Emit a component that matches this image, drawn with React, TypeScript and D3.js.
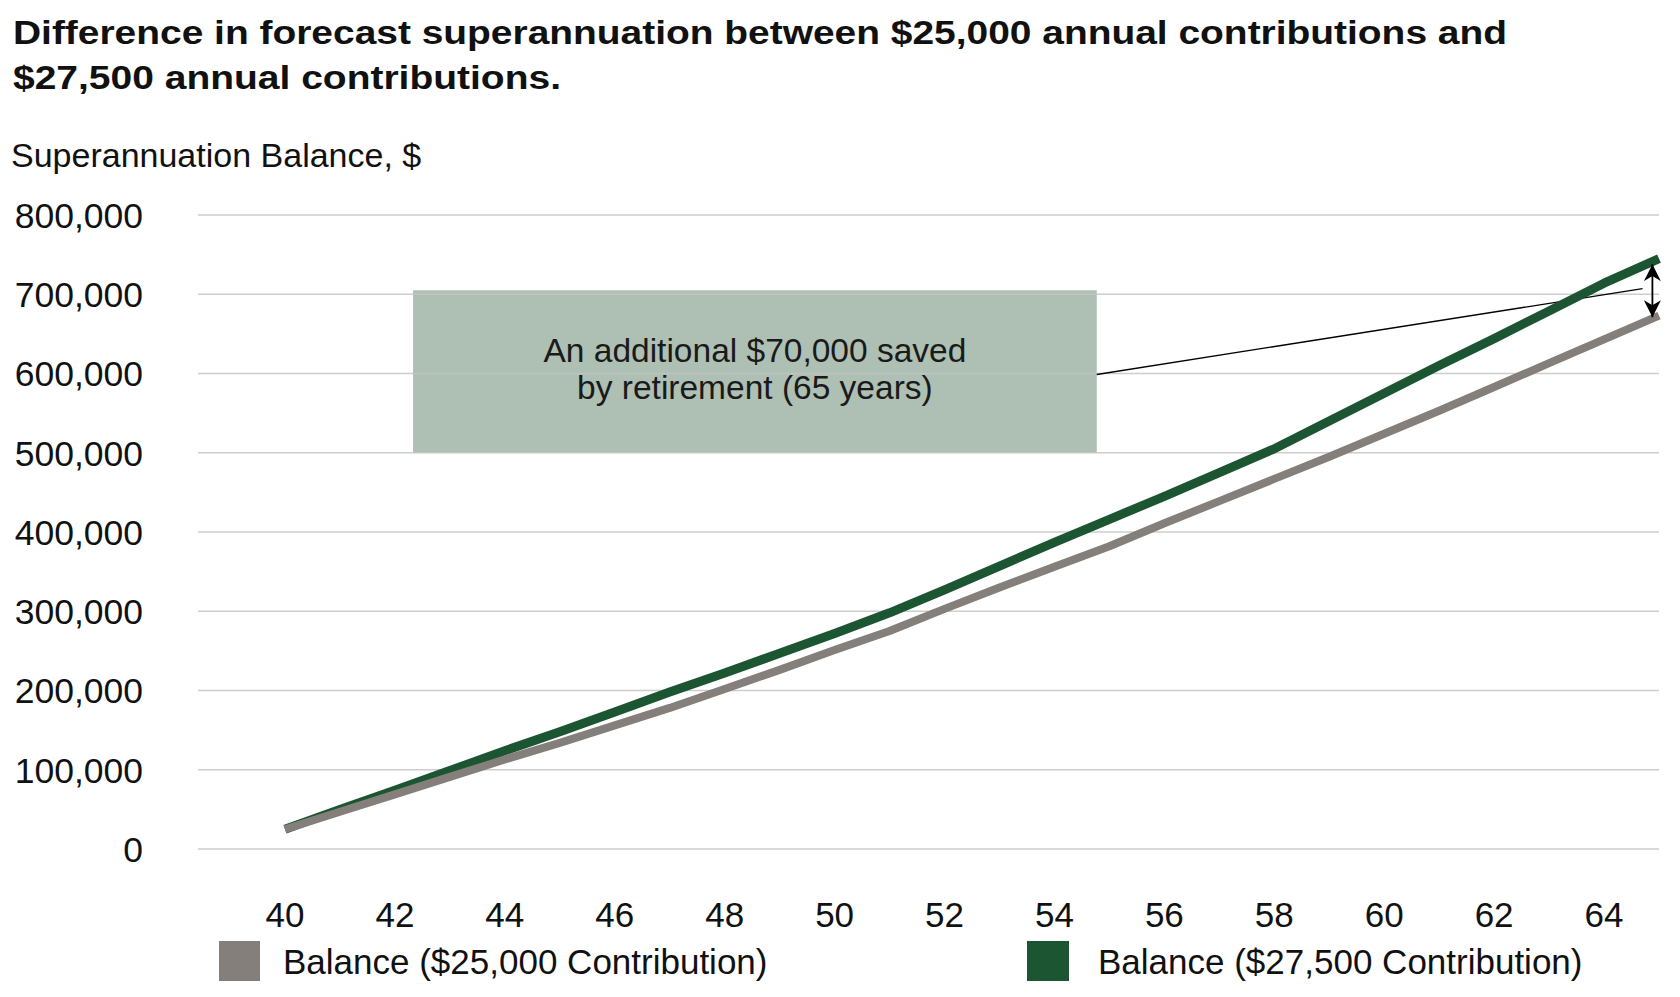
import React from "react";
import * as d3 from "d3";

const TITLE_LINES = [
  "Difference in forecast superannuation between $25,000 annual contributions and",
  "$27,500 annual contributions.",
];
const Y_AXIS_TITLE = "Superannuation Balance, $";
const AGES = [40, 41, 42, 43, 44, 45, 46, 47, 48, 49, 50, 51, 52, 53, 54, 55, 56, 57, 58, 59, 60, 61, 62, 63, 64, 65];
const BALANCE_25000 = [
  25000, 47000, 69000, 91000, 113000, 134000, 156000, 178000, 202000, 226000, 251000, 275000, 303000,
  330000, 356000, 382000, 411000, 439000, 467000, 495000, 524000, 553000, 583000, 613000, 643000, 673000,
];
const BALANCE_27500 = [
  25000, 50000, 74000, 99000, 124000, 148000, 173000, 198000, 222000, 247000, 272000, 298000, 327000,
  357000, 387000, 416000, 445000, 475000, 505000, 540000, 575000, 610000, 644000, 679000, 714000, 745000,
];
const X_TICKS = [40, 42, 44, 46, 48, 50, 52, 54, 56, 58, 60, 62, 64];
const Y_TICKS = [0, 100000, 200000, 300000, 400000, 500000, 600000, 700000, 800000];
const SERIES_NAMES = ["Balance ($25,000 Contribution)", "Balance ($27,500 Contribution)"];
const ANNOTATION_LINES = ["An additional $70,000 saved", "by retirement (65 years)"];

const W = 1680;
const H = 997;
const FONT = "'Liberation Sans', Arial, sans-serif";
const GREY = "#857f7b";
const GREEN = "#1c5532";

export default function App() {
  const x = d3.scaleLinear().domain([40, 65]).range([285, 1659]);
  const y = d3.scaleLinear().domain([0, 800000]).range([849, 215]);
  const gridX0 = 198;
  const gridX1 = 1659;

  const line = d3
    .line<number>()
    .x((_, i) => x(AGES[i]))
    .y((d) => y(d))
    .curve(d3.curveLinear);

  const fmt = d3.format(",");

  // annotation box in data units
  const boxX0 = x(42.33);
  const boxX1 = x(54.77);
  const boxY0 = y(705000);
  const boxY1 = y(500000);
  const boxCx = (boxX0 + boxX1) / 2;

  const arrowX = x(64.88);
  const arrowTop = y(738000);
  const arrowBot = y(671000);

  return (
    <svg
      width={W}
      height={H}
      viewBox={`0 0 ${W} ${H}`}
      style={{ position: "absolute", left: 0, top: 0, display: "block", background: "#fff" }}
      fontFamily={FONT}
    >
      <defs>
        <marker id="ah" viewBox="0 0 10 10" refX="10" refY="5" markerWidth="17" markerHeight="17" markerUnits="userSpaceOnUse" orient="auto-start-reverse">
          <path d="M0,0 L10,5 L0,10 L3,5 Z" fill="#000" />
        </marker>
      </defs>

      {/* Title */}
      <text x={13} y={44} fontSize={34} fontWeight={700} fill="#111" textLength={1494} lengthAdjust="spacingAndGlyphs">
        {TITLE_LINES[0]}
      </text>
      <text x={13} y={89} fontSize={34} fontWeight={700} fill="#111" textLength={548} lengthAdjust="spacingAndGlyphs">
        {TITLE_LINES[1]}
      </text>

      {/* Y axis title */}
      <text x={11} y={167} fontSize={34} fill="#111">
        {Y_AXIS_TITLE}
      </text>

      {/* Annotation box */}
      <rect x={boxX0} y={boxY0} width={boxX1 - boxX0} height={boxY1 - boxY0} fill="#aebfb3" />

      {/* Gridlines */}
      {Y_TICKS.map((t) => (
        <line key={t} x1={gridX0} x2={gridX1} y1={y(t)} y2={y(t)} stroke="#c4c4c4" strokeWidth={1.3} strokeOpacity={0.85} />
      ))}

      {/* Y tick labels */}
      {Y_TICKS.map((t) => (
        <text key={t} x={143} y={y(t)} dy="0.36em" textAnchor="end" fontSize={35.5} fill="#111">
          {fmt(t)}
        </text>
      ))}

      {/* X tick labels */}
      {X_TICKS.map((t) => (
        <text key={t} x={x(t)} y={927} textAnchor="middle" fontSize={35} fill="#111">
          {t}
        </text>
      ))}

      {/* Annotation text */}
      {ANNOTATION_LINES.map((s, i) => (
        <text key={i} x={boxCx} y={362 + i * 37} textAnchor="middle" fontSize={33.5} fill="#1a1a1a">
          {s}
        </text>
      ))}

      {/* Leader line */}
      <line x1={boxX1} y1={y(600000) + 1} x2={x(64.7)} y2={y(707000)} stroke="#000" strokeWidth={1.3} />

      {/* Series lines */}
      <path d={line(BALANCE_27500) || ""} fill="none" stroke={GREEN} strokeWidth={9} strokeLinejoin="round" />
      <path d={line(BALANCE_25000) || ""} fill="none" stroke={GREY} strokeWidth={8} strokeLinejoin="round" />

      {/* Double arrow */}
      <line
        x1={arrowX}
        x2={arrowX}
        y1={arrowTop}
        y2={arrowBot}
        stroke="#000"
        strokeWidth={1.8}
        markerStart="url(#ah)"
        markerEnd="url(#ah)"
      />

      {/* Legend */}
      <rect x={219} y={941} width={41} height={40} fill={GREY} />
      <text x={283} y={974} fontSize={35} fill="#111">
        {SERIES_NAMES[0]}
      </text>
      <rect x={1027} y={941} width={42} height={40} fill={GREEN} />
      <text x={1098} y={974} fontSize={35} fill="#111">
        {SERIES_NAMES[1]}
      </text>
    </svg>
  );
}
